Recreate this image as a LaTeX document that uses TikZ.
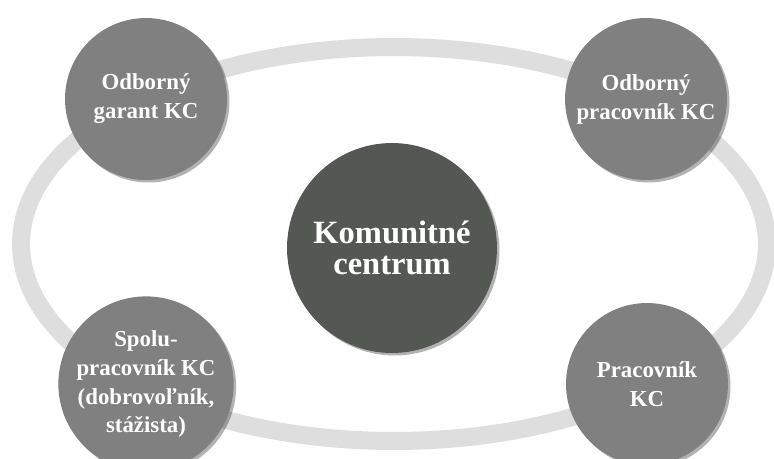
\documentclass[tikz,border=0pt]{standalone}
\usepackage{fontspec}
\setmainfont{Liberation Serif}
\usetikzlibrary{shadows}
\definecolor{ringgray}{HTML}{DEDEDE}
\definecolor{rolegray}{HTML}{808080}
\definecolor{centergray}{HTML}{535853}

\begin{document}
\begin{tikzpicture}[x=0.02cm, y=-0.02cm,
		role_style/.style={circle,fill=rolegray,text=white,minimum size=3.24cm,inner sep=0pt,align=center,
			font=\bfseries\fontsize{13}{16.5}\selectfont,
			drop shadow={shadow xshift=0.05cm,shadow yshift=-0.05cm,opacity=0.3,fill=black}},
		center_style/.style={circle,fill=centergray,text=white,minimum size=4.2cm,inner sep=0pt,align=center,
			font=\bfseries\fontsize{18.5}{17.5}\selectfont,
			drop shadow={shadow xshift=0.05cm,shadow yshift=-0.05cm,opacity=0.3,fill=black}},
		ring_style/.style={draw=ringgray,line width=10.24pt}]
		
		\useasboundingbox (0,0) rectangle (774,458);
		\draw[ring_style] (394,244) ellipse [x radius=7.46cm, y radius=3.94cm];
		
		\node[center_style] (kc) at (392,248) {Komunitné\\centrum};
		\node[role_style] (garant) at (146,99) {Odborný\\garant KC};
		\node[role_style] (odbprac) at (646,99) {Odborný\\pracovník KC};
		\node[role_style] (spolu) at (146,384) {Spolu-\\pracovník KC\\(dobrovoľník,\\stážista)};
		\node[role_style] (prac) at (647,384) {Pracovník\\KC};
		
\end{tikzpicture}
\end{document}
